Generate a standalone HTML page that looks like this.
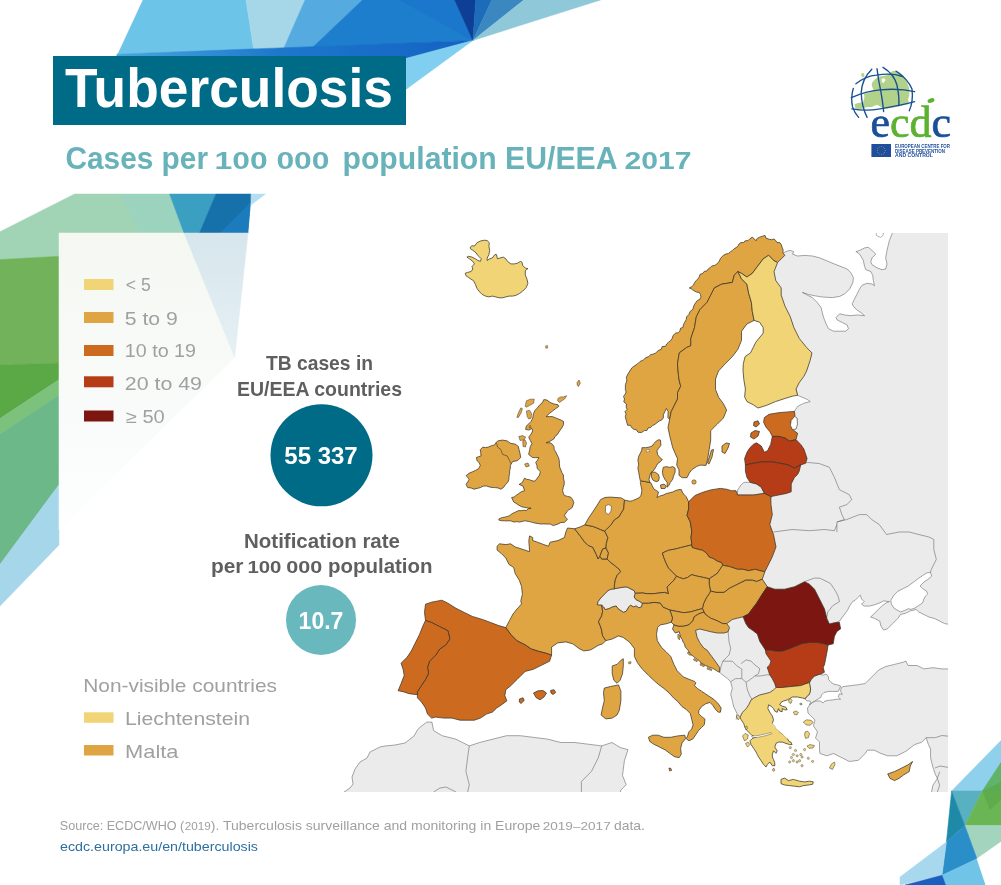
<!DOCTYPE html>
<html><head><meta charset="utf-8"><title>Tuberculosis</title>
<style>
html,body{margin:0;padding:0;background:#fff;}
svg{display:block;will-change:transform;}
text{-webkit-font-smoothing:antialiased;}
text{font-family:"Liberation Sans", Arial, sans-serif;}
</style></head><body>
<svg width="1001" height="885" viewBox="0 0 1001 885">
<rect width="1001" height="885" fill="#ffffff"/>
<polygon points="143,0 246,0 253.7,49.5 117,54.2 117,56" fill="#6cc4e8" stroke="#6cc4e8" stroke-width="0.5" stroke-linejoin="round"/>
<polygon points="246,0 305,0 283.7,48.6 253.7,49.5" fill="#a6d7e9" stroke="#a6d7e9" stroke-width="0.5" stroke-linejoin="round"/>
<polygon points="305,0 362.4,0 312.4,47.5 283.7,48.6" fill="#55aadf" stroke="#55aadf" stroke-width="0.5" stroke-linejoin="round"/>
<polygon points="362.4,0 454.8,0 472.9,40.4 312.4,47.5" fill="#1d7ecd" stroke="#1d7ecd" stroke-width="0.5" stroke-linejoin="round"/>
<polygon points="400,0 454.8,0 472.9,40.4" fill="#1b77cb" stroke="#1b77cb" stroke-width="0.5" stroke-linejoin="round"/>
<polygon points="454.8,0 475.8,0 472.9,40.4" fill="#0d3f96" stroke="#0d3f96" stroke-width="0.5" stroke-linejoin="round"/>
<polygon points="475.8,0 491.8,0 472.9,40.4" fill="#1c6cb9" stroke="#1c6cb9" stroke-width="0.5" stroke-linejoin="round"/>
<polygon points="491.8,0 523.8,0 472.9,40.4" fill="#3b88c0" stroke="#3b88c0" stroke-width="0.5" stroke-linejoin="round"/>
<polygon points="523.8,0 600.5,0 472.9,40.4" fill="#8fc8d8" stroke="#8fc8d8" stroke-width="0.5" stroke-linejoin="round"/>
<defs><linearGradient id="band" x1="117" y1="0" x2="473" y2="0" gradientUnits="userSpaceOnUse"><stop offset="0" stop-color="#4aa6de"/><stop offset="0.45" stop-color="#1d78cc"/><stop offset="1" stop-color="#1462c3"/></linearGradient></defs>
<polygon points="117,54.2 472.9,40.4 405.8,58.4 405.8,57 117,57" fill="url(#band)" stroke="url(#band)" stroke-width="0.5" stroke-linejoin="round"/>
<polygon points="405.8,58.4 472.9,40.4 405.8,89.5" fill="#80cff0" stroke="#80cff0" stroke-width="0.5" stroke-linejoin="round"/>
<polygon points="74.6,194 169.6,194 184,233 59,233 59,256.3 0,259.6 0,231.7" fill="#a0d4b4" stroke="#a0d4b4" stroke-width="0.5" stroke-linejoin="round"/>
<polygon points="120,194 169.6,194 184,233 140,233" fill="#9bd2c0" opacity="0.8"/>
<polygon points="169.6,194 215.9,194 199.4,233 184,233" fill="#3a9fc1" stroke="#3a9fc1" stroke-width="0.5" stroke-linejoin="round"/>
<polygon points="215.9,194 251.1,194 247.8,233 199.4,233" fill="#1670a9" stroke="#1670a9" stroke-width="0.5" stroke-linejoin="round"/>
<polygon points="251.1,202 251.1,194 247.8,233 220,233" fill="#1b7bbd" stroke="#1b7bbd" stroke-width="0.5" stroke-linejoin="round"/>
<polygon points="251.1,194 265.5,194 251.1,204.8" fill="#b5dff0" stroke="#b5dff0" stroke-width="0.5" stroke-linejoin="round"/>
<polygon points="0,259.6 59,256.3 59,363 0,365" fill="#72b25b" stroke="#72b25b" stroke-width="0.5" stroke-linejoin="round"/>
<polygon points="0,365 59,363 59,379.7 0,418.6" fill="#5ba946" stroke="#5ba946" stroke-width="0.5" stroke-linejoin="round"/>
<polygon points="0,418.6 59,379.7 59,395 0,434" fill="#7cc27c" stroke="#7cc27c" stroke-width="0.5" stroke-linejoin="round"/>
<polygon points="0,434 59,395 59,484.7 0,564.4" fill="#6cb889" stroke="#6cb889" stroke-width="0.5" stroke-linejoin="round"/>
<polygon points="0,564.4 59,484.7 59,545 0,606" fill="#a6d6ea" stroke="#a6d6ea" stroke-width="0.5" stroke-linejoin="round"/>
<defs><linearGradient id="fb" x1="0" y1="233" x2="0" y2="357" gradientUnits="userSpaceOnUse"><stop offset="0" stop-color="#d6e6ec"/><stop offset="1" stop-color="#e6f0f4"/></linearGradient><linearGradient id="fg" x1="0" y1="233" x2="0" y2="530" gradientUnits="userSpaceOnUse"><stop offset="0" stop-color="#f4f8f1"/><stop offset="0.6" stop-color="#f9fbfa"/><stop offset="1" stop-color="#fdfefe"/></linearGradient></defs>
<polygon points="59,233 184,233 234.7,357.4 59,530" fill="url(#fg)" stroke="url(#fg)" stroke-width="0.5" stroke-linejoin="round"/>
<polygon points="184,233 248,233 234.7,357.4" fill="url(#fb)" stroke="url(#fb)" stroke-width="0.5" stroke-linejoin="round"/>
<polygon points="951.6,791 1001,740.5 1001,791" fill="#8fd0ec" stroke="#8fd0ec" stroke-width="0.5" stroke-linejoin="round"/>
<polygon points="982.3,791 1001,762.6 1001,791" fill="#5fb36b" stroke="#5fb36b" stroke-width="0.5" stroke-linejoin="round"/>
<polygon points="951.6,791 982.3,791 964.8,825.4" fill="#58b0c1" stroke="#58b0c1" stroke-width="0.5" stroke-linejoin="round"/>
<polygon points="951.6,791 964.8,825.4 946.4,842" fill="#1f89a8" stroke="#1f89a8" stroke-width="0.5" stroke-linejoin="round"/>
<polygon points="982.3,791 1001,791 1001,825.4 964.8,825.4" fill="#6ab655" stroke="#6ab655" stroke-width="0.5" stroke-linejoin="round"/>
<polygon points="982.3,791 1001,782 1001,800 990,810" fill="#5aa848" opacity="0.7"/>
<polygon points="964.8,825.4 1001,825.4 1001,842 977,858.7" fill="#a3d5be" stroke="#a3d5be" stroke-width="0.5" stroke-linejoin="round"/>
<polygon points="964.8,825.4 977,858.7 942,875.3 946.4,842" fill="#2a8ec8" stroke="#2a8ec8" stroke-width="0.5" stroke-linejoin="round"/>
<polygon points="946.4,842 942,875.3 900,885 900,877" fill="#a7d8ee" stroke="#a7d8ee" stroke-width="0.5" stroke-linejoin="round"/>
<polygon points="942,875.3 977,858.7 985.8,885 945,885" fill="#6fc4e8" stroke="#6fc4e8" stroke-width="0.5" stroke-linejoin="round"/>
<polygon points="905,885 942,875.3 945.5,885" fill="#1a5fc0" stroke="#1a5fc0" stroke-width="0.5" stroke-linejoin="round"/>
<polygon points="977,858.7 1001,842 1001,885 985.8,885" fill="#ffffff" stroke="#ffffff" stroke-width="0.5" stroke-linejoin="round"/>
<defs><clipPath id="mc"><rect x="330" y="233" width="618" height="559"/></clipPath></defs>
<g clip-path="url(#mc)">
<path d="M786.0,251.5 L790.0,250.4 L793.7,251.6 L792.5,254.1 L797.5,256.0 L804.9,255.4 L812.4,256.0 L819.8,257.9 L827.3,261.0 L834.7,264.1 L841.0,266.6 L847.2,269.0 L850.9,272.8 L853.4,277.7 L852.8,282.7 L849.7,288.9 L844.7,293.9 L839.7,296.4 L832.3,297.6 L822.3,297.0 L814.9,295.8 L808.6,294.5 L802.4,292.4 L807.4,295.2 L812.4,297.6 L817.3,302.6 L821.1,307.6 L822.3,312.6 L823.6,317.5 L826.0,323.7 L828.5,328.7 L833.5,331.2 L839.7,331.2 L845.9,331.2 L848.4,328.7 L847.2,325.0 L842.2,322.5 L837.2,320.0 L836.0,317.5 L839.7,313.8 L844.7,315.0 L850.9,315.7 L857.1,315.0 L864.6,315.7 L860.9,312.6 L857.1,310.1 L853.4,306.3 L852.2,303.9 L854.6,298.9 L857.1,293.9 L859.6,288.9 L862.1,285.2 L867.1,283.3 L872.0,284.0 L874.5,285.8 L873.3,280.2 L872.7,275.3 L870.8,271.5 L865.8,269.7 L864.6,266.6 L863.3,260.3 L859.6,254.1 L855.9,251.6 L859.6,250.4 L864.6,247.9 L868.3,247.3 L872.0,250.4 L875.8,254.1 L872.0,257.9 L870.8,261.6 L872.0,264.7 L877.0,267.8 L882.0,269.7 L885.7,269.0 L887.0,264.1 L885.7,257.9 L887.0,250.4 L888.2,245.4 L889.4,240.5 L891.9,234.2 L892.5,233.0 L893.0,229.0 L952.0,229.0 L952.0,624.9 L944.7,623.6 L939.5,621.0 L934.3,618.4 L929.1,617.1 L923.9,614.5 L918.7,611.9 L916.1,609.4 L912.2,610.6 L910.9,610.6 L905.7,613.2 L900.5,614.5 L897.9,618.4 L892.7,623.6 L887.5,628.8 L883.6,630.1 L881.0,626.2 L879.7,621.0 L874.5,618.4 L870.6,617.1 L874.5,613.2 L878.4,609.4 L882.3,605.5 L886.2,602.9 L889.5,601.5 L888.8,601.6 L883.6,600.9 L879.7,602.9 L874.5,604.8 L869.4,606.1 L864.2,606.1 L861.6,604.2 L864.2,601.6 L861.6,599.0 L860.3,595.1 L857.7,597.7 L855.1,600.3 L852.5,601.6 L849.9,605.5 L847.3,610.6 L843.4,615.8 L839.5,621.0 L836.0,622.5 L830.0,630.0 L800.0,620.0 L770.0,600.0 L745.0,585.0 L735.0,560.0 L760.0,520.0 L780.0,480.0 L785.0,445.0 L787.0,425.0 L794.4,411.4 L797.6,406.4 L803.9,403.2 L810.2,401.6 L807.1,399.3 L797.6,395.3 L790.0,370.0 L785.0,320.0 L776.0,290.0 L770.0,270.0 L775.0,258.0 Z" fill="#ebebeb" stroke="#6a6a6a" stroke-width="0.6" stroke-linejoin="round" />
<path d="M843.0,686.6 L849.4,685.8 L858.4,684.7 L865.2,683.5 L871.9,676.8 L878.7,670.0 L885.5,666.6 L894.5,664.4 L903.5,662.1 L905.8,661.0 L908.1,665.5 L917.1,665.5 L923.9,668.9 L932.9,667.7 L941.9,668.9 L952.0,668.9 L952.0,797.0 L930.6,797.0 L932.9,785.2 L937.4,778.4 L935.2,773.9 L932.9,767.1 L930.6,758.1 L930.6,749.0 L928.4,744.5 L926.1,737.7 L921.6,742.3 L914.8,744.5 L905.8,751.3 L896.8,755.8 L887.7,755.8 L881.0,753.5 L874.2,750.2 L867.4,750.2 L865.2,753.5 L858.4,760.3 L849.4,761.5 L842.6,758.1 L833.5,753.5 L826.8,755.8 L820.0,753.5 L819.5,750.2 L819.5,742.1 L815.5,738.0 L817.5,731.9 L813.4,725.8 L815.0,720.0 L812.0,717.0 L808.0,713.0 L807.5,708.0 L810.0,704.6 L813.0,702.2 L816.0,701.0 L820.2,701.0 L823.2,702.8 L825.0,701.0 L828.6,700.4 L833.4,699.8 L837.0,699.2 L840.6,699.2 L838.2,696.8 L839.4,693.8 L842.4,694.4 L840.6,691.4 L841.2,687.8 Z" fill="#ebebeb" stroke="#6a6a6a" stroke-width="0.6" stroke-linejoin="round" />
<path d="M340.0,797.0 L344.0,792.0 L350.0,788.0 L353.0,784.0 L352.0,777.0 L355.0,769.0 L360.0,762.0 L367.0,758.0 L370.0,752.0 L380.0,747.0 L385.0,746.0 L395.0,745.0 L405.0,743.0 L414.0,736.0 L417.4,730.0 L420.0,727.2 L426.8,722.1 L431.9,722.1 L433.6,730.6 L442.1,735.7 L455.7,739.1 L462.5,742.5 L469.3,745.9 L479.5,742.5 L493.0,739.1 L506.6,735.7 L520.2,735.7 L533.8,737.4 L547.4,739.1 L561.0,742.5 L574.6,742.5 L588.2,744.2 L601.7,745.9 L611.9,742.5 L620.4,747.6 L628.0,749.6 L624.4,760.7 L622.5,775.5 L626.2,784.7 L620.7,790.2 L620.0,797.0 Z" fill="#ebebeb" stroke="#6a6a6a" stroke-width="0.6" stroke-linejoin="round" />
<path d="M809.4,683.0 L813.0,677.0 L819.0,674.0 L823.2,675.2 L826.2,674.0 L828.6,677.0 L828.6,679.4 L831.0,682.4 L834.0,684.2 L837.0,684.8 L840.6,686.0 L839.5,689.0 L838.2,691.4 L834.0,691.4 L828.6,691.4 L823.8,692.6 L821.4,695.0 L820.8,697.4 L817.8,699.2 L814.8,701.0 L811.8,702.8 L809.4,704.6 L810.6,702.2 L810.0,701.0 L807.0,701.0 L805.2,699.2 L806.4,696.8 L808.8,695.0 L810.0,692.6 L810.6,689.0 L810.0,686.0 Z" fill="#ebebeb" stroke="#6a6a6a" stroke-width="0.6" stroke-linejoin="round" />
<path d="M719.6,672.3 L721.2,673.8 L727.5,678.6 L730.7,681.8 L732.3,688.1 L730.7,694.4 L732.3,700.7 L733.8,707.1 L737.0,713.4 L736.2,719.6 L750.0,712.0 L775.0,700.0 L780.0,690.0 L780.0,680.0 L790.0,625.0 L760.0,615.0 L730.0,610.0 L700.0,626.0 L695.6,630.3 L697.0,637.1 L699.7,642.5 L703.7,648.0 L707.0,650.1 L711.7,656.4 L716.4,662.8 L719.6,667.5 Z" fill="#ebebeb" stroke="none" stroke-width="0" stroke-linejoin="round" />
<path d="M597.2,604.6 L598.1,601.5 L600.8,597.9 L604.4,594.2 L608.0,590.6 L610.7,589.3 L614.4,588.8 L618.9,587.9 L624.3,587.0 L627.0,587.0 L630.6,588.8 L634.2,590.6 L635.2,593.3 L634.2,597.0 L636.1,599.7 L639.7,601.5 L642.4,603.3 L641.5,606.9 L638.8,607.8 L636.1,606.0 L633.3,606.9 L630.6,605.1 L628.8,606.9 L626.1,611.4 L623.4,612.3 L620.7,610.5 L618.0,608.7 L616.2,606.0 L612.5,606.9 L608.9,608.7 L605.3,609.6 L603.5,606.9 L600.8,605.1 L599.0,605.1 Z" fill="#ebebeb" stroke="#6a6a6a" stroke-width="0.6" stroke-linejoin="round" />
<path d="M737.5,490.2 L740.6,485.5 L743.8,482.3 L750.1,482.3 L756.4,483.9 L761.2,487.1 L764.4,493.4 L753.3,495.0 L745.0,495.0 L737.5,495.0 Z" fill="#ebebeb" stroke="#6a6a6a" stroke-width="0.6" stroke-linejoin="round" />
<path d="M890.8,600.3 L894.0,595.1 L897.9,591.2 L903.1,588.6 L908.3,586.0 L913.5,582.1 L918.7,578.2 L922.6,575.6 L926.5,573.0 L930.4,572.3 L931.7,576.2 L927.8,579.5 L923.9,582.1 L920.0,586.0 L922.6,588.6 L926.5,591.2 L927.8,593.8 L925.2,596.4 L923.9,599.0 L922.6,602.9 L918.7,605.5 L914.8,608.1 L910.9,609.4 L908.3,608.7 L904.4,610.6 L900.5,611.9 L897.9,610.6 L894.0,608.1 L891.4,604.2 Z" fill="#ffffff" stroke="#6a6a6a" stroke-width="0.6" stroke-linejoin="round" />
<path d="M876.0,232.0 L876.5,235.5 L880.5,237.4 L883.0,235.5 L883.5,232.0 Z" fill="#ffffff" stroke="#6a6a6a" stroke-width="0.5" stroke-linejoin="round" />
<path d="M794.5,416.5 L797.0,418.0 L797.5,424.0 L796.0,429.0 L792.5,429.5 L790.5,425.4 L791.2,420.6 Z" fill="#ffffff" stroke="#6a6a6a" stroke-width="0.5" stroke-linejoin="round" />
<path d="M805.5,463.3 L807.1,462.4 L819.5,463.6 L829.4,467.3 L834.4,477.3 L839.4,489.7 L849.3,494.7 L851.8,499.7 L846.8,504.6 L839.4,507.1 L841.9,514.6 L844.4,519.5 L836.9,522.0 L836.9,532.0" fill="none" stroke="#6a6a6a" stroke-width="0.6" stroke-linejoin="round"/>
<path d="M773.5,532.0 L792.1,529.5 L809.5,530.7 L824.5,529.5 L834.4,530.7 L836.9,524.5" fill="none" stroke="#6a6a6a" stroke-width="0.6" stroke-linejoin="round"/>
<path d="M836.9,522.0 L846.8,519.5 L859.3,514.6 L866.7,514.6 L871.7,519.5 L879.2,524.5 L886.6,534.5 L899.0,532.0 L909.0,532.0 L918.9,534.5 L928.9,537.0 L933.8,539.4 L933.8,549.4 L936.3,559.3 L931.4,569.3 L930.4,572.3" fill="none" stroke="#6a6a6a" stroke-width="0.6" stroke-linejoin="round"/>
<path d="M804.6,581.7 L814.5,578.0 L820.0,578.2 L825.2,580.8 L830.4,583.4 L833.0,587.3 L835.6,591.2 L838.2,596.4 L839.5,601.6 L833.0,605.5 L827.8,611.9 L826.5,618.4" fill="none" stroke="#6a6a6a" stroke-width="0.6" stroke-linejoin="round"/>
<path d="M728.1,631.7 L729.1,642.2 L730.7,648.5 L729.1,654.9 L725.9,658.0 L722.8,661.2 L721.2,665.9 L719.6,672.3" fill="none" stroke="#6a6a6a" stroke-width="0.6" stroke-linejoin="round"/>
<path d="M722.8,661.2 L732.3,661.2 L737.0,665.9 L741.8,669.1 L741.8,678.6 L735.4,678.6 L730.7,681.8" fill="none" stroke="#6a6a6a" stroke-width="0.6" stroke-linejoin="round"/>
<path d="M741.1,663.6 L746.1,659.9 L751.1,661.1 L754.8,664.9 L759.8,668.6 L758.5,673.6 L754.8,676.0 L749.8,679.8 L746.1,682.3 L741.8,678.6" fill="none" stroke="#6a6a6a" stroke-width="0.6" stroke-linejoin="round"/>
<path d="M754.8,676.0 L760.0,676.0 L767.2,674.8 L769.7,674.8" fill="none" stroke="#6a6a6a" stroke-width="0.6" stroke-linejoin="round"/>
<path d="M746.1,682.3 L747.3,689.7 L749.8,695.9 L752.3,699.7" fill="none" stroke="#6a6a6a" stroke-width="0.6" stroke-linejoin="round"/>
<path d="M926.1,737.7 L935.2,737.7 L941.9,735.5 L952.0,736.6" fill="none" stroke="#6a6a6a" stroke-width="0.6" stroke-linejoin="round"/>
<path d="M935.0,768.0 L940.0,766.0 L952.0,768.0" fill="none" stroke="#6a6a6a" stroke-width="0.6" stroke-linejoin="round"/>
<path d="M939.7,771.6 L937.4,778.4 L939.7,785.2 L937.0,793.0" fill="none" stroke="#6a6a6a" stroke-width="0.6" stroke-linejoin="round"/>
<path d="M469.3,745.9 L467.6,757.7 L465.9,771.3 L469.3,784.9 L467.6,792.0" fill="none" stroke="#6a6a6a" stroke-width="0.6" stroke-linejoin="round"/>
<path d="M601.7,745.9 L598.3,757.7 L591.5,771.3 L581.4,781.5 L581.4,792.0" fill="none" stroke="#6a6a6a" stroke-width="0.6" stroke-linejoin="round"/>
<path d="M433.6,792.0 L440.0,788.0 L446.0,787.0 L452.0,790.0 L456.0,792.0" fill="none" stroke="#6a6a6a" stroke-width="0.6" stroke-linejoin="round"/>
<path d="M719.6,672.3 L721.2,673.8 L727.5,678.6 L730.7,681.8 L732.3,688.1 L730.7,694.4 L732.3,700.7 L733.8,707.1 L737.0,713.4 L736.2,719.6" fill="none" stroke="#6a6a6a" stroke-width="0.6" stroke-linejoin="round"/>
<path d="M470.3,247.0 L472.0,245.7 L474.5,246.1 L477.0,242.7 L480.4,241.0 L484.7,240.2 L487.2,240.6 L489.3,242.7 L488.9,246.1 L489.7,250.3 L488.9,254.6 L487.2,258.0 L487.2,260.5 L489.7,258.8 L492.3,258.0 L494.8,254.6 L496.5,254.6 L497.4,258.8 L499.9,258.0 L503.3,257.1 L505.8,258.8 L507.5,261.4 L510.9,263.9 L514.3,263.9 L517.7,263.1 L520.3,261.4 L522.0,262.2 L522.8,265.6 L525.3,268.1 L527.9,268.6 L525.3,270.7 L525.3,274.9 L527.0,279.2 L527.9,283.4 L526.2,287.6 L522.8,291.0 L519.4,293.6 L516.0,295.3 L512.6,296.1 L509.2,296.1 L505.8,296.9 L502.5,297.8 L499.1,297.8 L495.7,296.9 L492.3,296.1 L488.9,296.9 L485.5,296.1 L482.1,294.4 L479.6,291.9 L477.0,288.5 L475.3,284.2 L473.6,280.8 L471.1,279.2 L468.6,277.5 L466.0,275.8 L465.2,273.2 L467.7,272.4 L471.1,271.5 L472.8,269.0 L472.0,266.4 L474.5,263.9 L472.8,261.4 L469.4,258.8 L466.9,257.1 L468.6,256.3 L472.0,257.1 L475.3,258.8 L477.9,260.5 L480.4,261.4 L481.3,258.8 L479.6,257.1 L477.6,255.3 L476.2,252.9 L472.8,250.3 L470.3,248.6 Z" fill="#f0d475" stroke="#3b3428" stroke-width="0.75" stroke-linejoin="round" />
<path d="M494.6,444.9 L495.9,442.7 L497.7,440.9 L502.5,440.1 L507.2,440.9 L510.4,443.3 L515.1,444.1 L518.3,446.4 L519.0,449.6 L519.9,452.8 L520.7,457.5 L517.5,460.7 L512.7,461.5 L510.4,465.4 L510.3,468.1 L509.7,470.7 L509.6,473.3 L509.0,476.5 L508.8,479.7 L507.7,482.4 L505.6,484.4 L503.7,487.3 L500.9,489.2 L497.9,487.9 L494.6,487.6 L491.9,487.4 L489.2,486.9 L486.6,486.0 L483.3,486.1 L480.3,487.6 L477.2,488.4 L474.0,489.2 L471.0,487.9 L467.7,487.6 L466.1,484.4 L467.6,482.0 L469.2,479.7 L467.8,477.6 L466.1,475.7 L469.0,473.3 L472.4,471.8 L475.6,470.4 L478.7,468.6 L480.3,465.4 L479.1,462.8 L477.1,460.7 L476.4,457.5 L481.1,455.9 L480.7,452.7 L480.3,449.6 L482.7,447.2 L485.4,447.5 L488.2,447.2 L491.4,445.7 Z" fill="#e0a543" stroke="#3b3428" stroke-width="0.75" stroke-linejoin="round" />
<path d="M543.8,399.6 L546.9,400.0 L550.1,402.4 L554.0,404.0 L558.0,404.8 L558.8,406.4 L555.6,408.7 L552.5,411.1 L549.3,413.5 L546.1,416.6 L549.3,416.6 L552.5,416.6 L556.4,418.2 L560.4,419.8 L563.5,421.4 L563.5,424.6 L562.0,427.7 L559.6,430.9 L557.2,434.8 L555.0,436.3 L554.0,438.8 L550.1,441.2 L546.1,442.8 L550.1,442.8 L552.5,444.3 L554.0,446.7 L554.1,449.3 L555.6,451.5 L557.2,455.0 L558.6,457.8 L559.3,460.7 L559.4,463.8 L559.7,467.1 L561.0,470.2 L561.9,472.7 L563.4,474.9 L563.4,478.1 L564.2,481.2 L564.2,484.4 L563.2,487.5 L562.6,490.7 L563.3,493.2 L564.4,495.5 L567.5,496.4 L570.7,497.1 L572.7,499.6 L573.8,502.7 L572.3,507.4 L570.0,509.1 L567.5,510.6 L566.1,513.0 L564.4,515.3 L565.7,517.5 L567.5,519.3 L564.4,522.4 L561.0,522.4 L558.0,524.0 L553.3,525.6 L550.3,524.1 L547.0,524.0 L543.8,523.9 L540.6,524.0 L535.9,523.2 L532.7,522.5 L529.6,521.6 L524.8,520.8 L522.2,521.4 L519.6,522.1 L516.9,521.6 L513.7,522.0 L510.6,520.8 L507.4,520.9 L504.2,520.8 L501.4,520.7 L498.7,520.0 L499.5,518.5 L502.6,517.5 L505.8,516.9 L509.2,515.9 L512.1,513.7 L515.3,512.2 L518.5,510.6 L521.1,510.7 L523.8,510.2 L526.4,510.6 L528.4,508.7 L531.1,508.2 L527.9,508.1 L524.8,507.4 L521.4,506.7 L518.5,505.0 L516.1,503.4 L513.7,501.9 L511.6,497.5 L514.2,497.0 L516.2,495.3 L518.3,493.9 L521.2,491.8 L524.6,490.7 L523.0,486.0 L519.1,484.4 L521.4,483.3 L523.0,481.2 L524.6,478.1 L526.8,479.4 L529.4,479.7 L532.1,480.8 L534.9,481.2 L537.3,478.1 L539.4,475.2 L540.4,471.8 L537.3,468.6 L536.9,465.3 L535.7,462.3 L537.6,460.2 L538.8,457.5 L535.6,457.7 L532.5,457.5 L528.6,454.4 L529.5,450.7 L530.3,446.7 L531.9,443.5 L530.3,440.4 L528.7,437.2 L531.1,434.1 L532.7,430.9 L531.9,428.5 L528.7,430.1 L525.6,429.3 L526.4,426.1 L528.7,423.8 L531.1,421.4 L532.7,418.2 L533.5,413.5 L535.1,410.3 L537.4,407.9 L539.8,404.8 L542.4,402.7 Z" fill="#e0a543" stroke="#3b3428" stroke-width="0.75" stroke-linejoin="round" />
<path d="M574.6,528.8 L567.5,528.0 L565.9,531.9 L564.4,537.5 L558.0,540.6 L550.1,542.2 L548.5,546.2 L543.8,544.6 L537.5,542.2 L532.7,540.6 L532.7,537.5 L529.6,535.9 L528.8,540.6 L529.6,551.7 L524.8,550.1 L520.1,548.5 L515.3,547.0 L510.6,543.8 L505.8,544.6 L499.5,543.8 L497.1,546.2 L497.1,550.1 L501.1,553.3 L505.8,558.0 L509.0,564.4 L513.7,567.5 L515.3,573.8 L519.3,580.2 L521.6,586.5 L522.4,594.4 L520.8,600.7 L521.5,604.0 L517.0,609.0 L513.0,614.0 L509.5,620.5 L505.8,627.6 L510.9,634.7 L517.0,640.8 L525.2,644.9 L531.3,649.0 L537.4,651.0 L545.5,653.1 L551.6,655.1 L551.6,647.0 L557.7,642.9 L565.8,641.9 L572.7,643.8 L579.0,648.5 L583.7,650.9 L590.1,650.1 L593.2,648.5 L598.0,645.4 L602.7,643.8 L605.9,640.6 L602.7,635.9 L601.1,628.0 L598.5,621.6 L601.7,615.9 L602.6,611.4 L601.7,605.1 L599.0,605.1 L597.2,604.6 L598.1,601.5 L600.8,597.9 L604.4,594.2 L608.0,590.6 L610.7,589.3 L614.4,588.8 L614.4,585.2 L615.3,579.8 L617.1,575.3 L620.7,571.6 L618.9,568.9 L614.4,565.3 L609.8,561.7 L607.1,559.0 L601.7,559.0 L599.9,556.3 L598.1,559.0 L596.3,554.5 L592.7,547.2 L588.1,545.4 L584.5,541.8 L580.2,535.9 Z" fill="#e0a543" stroke="#3b3428" stroke-width="0.75" stroke-linejoin="round" />
<path d="M425.5,604.2 L431.6,602.2 L441.8,600.2 L447.9,603.2 L456.0,608.3 L464.2,612.4 L472.3,616.4 L482.5,619.5 L490.6,622.5 L498.7,625.6 L505.8,627.6 L510.9,634.7 L517.0,640.8 L525.2,644.9 L531.3,649.0 L537.4,651.0 L545.5,653.1 L551.6,655.1 L549.6,661.2 L541.4,665.3 L533.3,669.3 L525.2,671.4 L521.1,675.4 L517.0,679.5 L510.9,685.6 L505.8,689.7 L504.8,695.8 L506.9,700.8 L502.8,703.9 L496.7,708.0 L492.6,712.0 L486.5,714.1 L480.4,718.1 L474.3,720.2 L468.2,720.2 L460.1,720.2 L452.0,718.1 L443.8,718.1 L435.7,717.1 L431.6,718.1 L427.5,714.1 L425.5,708.0 L421.4,701.9 L417.4,697.8 L417.4,694.7 L417.4,691.7 L421.4,685.6 L425.5,679.5 L428.6,673.4 L427.5,667.3 L429.6,661.2 L435.7,655.1 L439.7,649.0 L445.8,644.9 L449.9,638.8 L447.9,630.7 L439.7,626.6 L431.6,622.5 L425.5,620.5 L424.5,612.4 Z" fill="#cc6b20" stroke="#3b3428" stroke-width="0.75" stroke-linejoin="round" />
<path d="M425.5,620.5 L431.6,622.5 L439.7,626.6 L447.9,630.7 L449.9,638.8 L445.8,644.9 L439.7,649.0 L435.7,655.1 L429.6,661.2 L427.5,667.3 L428.6,673.4 L425.5,679.5 L421.4,685.6 L417.4,691.7 L417.4,694.7 L409.2,693.7 L403.1,691.7 L398.1,690.7 L401.1,683.6 L404.2,675.4 L403.1,669.3 L401.1,663.2 L407.2,657.1 L411.3,651.0 L415.3,642.9 L419.4,634.7 L423.5,624.6 Z" fill="#cc6b20" stroke="#3b3428" stroke-width="0.75" stroke-linejoin="round" />
<path d="M574.6,528.8 L580.0,527.0 L584.9,524.8 L588.0,525.5 L592.8,526.4 L597.0,528.0 L600.7,529.6 L604.7,531.1 L607.9,537.5 L606.3,543.8 L606.0,548.0 L602.6,549.0 L599.9,556.3 L598.1,559.0 L596.3,554.5 L592.7,547.2 L588.1,545.4 L584.5,541.8 L580.2,535.9 Z" fill="#e0a543" stroke="#3b3428" stroke-width="0.75" stroke-linejoin="round" />
<path d="M601.7,559.0 L607.1,559.0 L608.5,553.0 L606.0,548.0 L602.6,549.0 L599.9,556.3 Z" fill="#e0a543" stroke="#3b3428" stroke-width="0.75" stroke-linejoin="round" />
<path d="M584.9,524.8 L588.0,519.0 L592.0,513.0 L596.0,507.0 L600.7,499.5 L605.0,497.5 L610.2,497.1 L616.0,497.5 L621.3,497.9 L624.5,500.0 L623.7,509.0 L619.0,516.9 L614.2,520.1 L611.1,524.8 L606.3,529.6 L604.7,531.1 L600.7,529.6 L597.0,528.0 L592.8,526.4 L588.0,525.5 Z" fill="#e0a543" stroke="#3b3428" stroke-width="0.75" stroke-linejoin="round" />
<path d="M624.5,500.0 L630.0,501.3 L632.4,500.7 L636.3,499.1 L639.5,497.5 L641.1,495.1 L641.9,490.4 L641.1,486.4 L640.3,482.5 L641.1,480.9 L645.8,481.7 L649.8,482.5 L650.6,482.5 L652.2,485.6 L653.7,488.8 L656.1,490.4 L658.5,492.0 L657.7,495.1 L656.9,497.5 L660.1,495.9 L663.2,495.1 L666.4,493.5 L669.6,492.8 L672.7,492.0 L675.9,490.4 L679.0,489.6 L681.4,489.6 L682.2,492.0 L683.8,494.3 L686.2,496.7 L688.6,501.8 L688.6,509.0 L687.0,515.3 L690.2,521.6 L691.8,531.1 L691.0,537.5 L691.8,543.8 L691.5,544.9 L686.1,546.3 L680.7,547.6 L675.3,549.0 L668.5,550.3 L662.4,553.0 L663.7,557.1 L665.8,562.5 L668.5,568.0 L672.5,572.0 L676.6,576.1 L673.9,580.2 L671.2,582.9 L667.1,587.0 L668.5,593.7 L664.4,592.4 L659.0,593.0 L653.6,593.7 L646.8,593.7 L642.7,593.0 L635.2,593.3 L634.2,590.6 L630.6,588.8 L627.0,587.0 L624.3,587.0 L618.9,587.9 L614.4,588.8 L614.4,585.2 L615.3,579.8 L617.1,575.3 L620.7,571.6 L618.9,568.9 L614.4,565.3 L609.8,561.7 L607.1,559.0 L608.5,553.0 L606.0,548.0 L606.3,543.8 L607.9,537.5 L604.7,531.1 L606.3,529.6 L611.1,524.8 L614.2,520.1 L619.0,516.9 L623.7,509.0 Z" fill="#e0a543" stroke="#3b3428" stroke-width="0.75" stroke-linejoin="round" />
<path d="M660.5,440.1 L660.9,445.3 L658.5,448.4 L656.9,450.8 L657.7,454.8 L660.1,457.9 L662.4,459.5 L660.1,461.9 L657.7,463.5 L656.1,466.6 L654.5,469.0 L652.9,471.4 L650.6,473.0 L649.8,476.1 L649.0,479.3 L649.8,482.5 L645.8,481.7 L641.1,480.9 L640.3,480.9 L639.5,476.9 L638.7,472.2 L637.9,468.2 L638.7,464.3 L637.9,460.3 L638.7,456.4 L640.3,453.2 L641.9,450.0 L641.9,447.7 L645.8,447.7 L649.8,446.9 L652.2,446.1 L653.7,443.7 L656.1,441.3 L658.5,439.7 Z" fill="#e0a543" stroke="#3b3428" stroke-width="0.75" stroke-linejoin="round" />
<path d="M651.4,472.2 L655.3,472.2 L658.5,474.6 L659.3,477.7 L658.5,480.9 L656.1,481.7 L652.9,480.1 L651.4,476.9 Z" fill="#e0a543" stroke="#3b3428" stroke-width="0.75" stroke-linejoin="round" />
<path d="M663.2,467.4 L666.4,466.6 L669.6,467.4 L672.7,466.6 L675.1,468.2 L675.1,472.2 L673.5,476.1 L672.7,479.3 L670.3,482.5 L668.8,485.6 L667.2,487.2 L667.2,482.5 L664.8,479.3 L663.2,476.1 L662.4,472.2 Z" fill="#e0a543" stroke="#3b3428" stroke-width="0.75" stroke-linejoin="round" />
<path d="M660.5,485.0 L664.0,484.2 L666.4,486.0 L665.0,488.5 L661.0,488.5 Z" fill="#e0a543" stroke="#3b3428" stroke-width="0.75" stroke-linejoin="round" />
<path d="M669.6,419.6 L667.9,417.5 L668.0,414.8 L668.1,411.4 L666.4,408.5 L664.9,411.6 L663.4,414.6 L663.3,418.0 L661.6,420.1 L659.1,421.1 L657.0,422.7 L654.9,424.4 L652.5,425.6 L650.6,427.5 L648.2,427.9 L646.9,430.5 L644.3,430.6 L641.5,432.6 L638.0,432.2 L636.4,429.9 L633.6,429.2 L631.6,427.5 L630.5,425.4 L627.5,425.2 L626.9,422.7 L626.0,419.6 L625.3,416.4 L626.1,414.1 L625.0,411.6 L627.1,409.4 L626.1,406.9 L626.6,404.1 L623.8,401.9 L624.5,399.0 L623.5,396.5 L625.0,394.3 L626.2,392.0 L625.3,389.5 L625.4,387.1 L625.4,384.6 L626.3,382.3 L626.9,380.0 L626.3,377.3 L627.4,375.0 L628.7,372.8 L630.4,370.0 L632.3,367.4 L635.0,365.6 L637.7,363.8 L640.1,361.4 L643.2,360.2 L645.5,357.8 L648.6,356.6 L650.7,354.7 L653.4,354.0 L655.8,352.9 L658.2,350.6 L661.2,349.3 L662.2,346.6 L665.5,346.3 L666.7,343.9 L668.6,342.2 L670.6,340.6 L672.1,338.5 L673.2,335.3 L675.7,333.1 L678.3,332.7 L679.9,331.1 L680.5,328.2 L682.9,327.6 L683.4,324.8 L684.7,322.2 L686.2,319.7 L686.6,316.8 L688.9,314.4 L690.2,311.4 L692.9,309.3 L693.8,305.9 L695.4,303.1 L697.4,300.5 L699.8,299.3 L701.0,296.9 L700.5,294.5 L699.2,292.4 L696.3,292.0 L693.8,290.6 L691.7,289.1 L689.3,287.9 L691.8,286.8 L693.5,284.9 L694.7,282.4 L696.2,280.6 L697.9,278.9 L699.2,277.0 L700.1,274.3 L702.8,273.4 L704.2,271.4 L707.0,271.0 L708.3,268.9 L710.2,267.6 L711.8,265.9 L714.3,265.6 L716.2,264.4 L718.1,262.9 L719.4,261.0 L720.3,258.7 L721.8,257.0 L723.4,255.3 L725.8,254.1 L728.5,253.5 L730.6,251.7 L732.5,250.4 L734.1,248.8 L736.1,247.6 L737.9,246.3 L739.0,244.0 L740.8,242.6 L743.6,242.6 L745.1,240.8 L748.1,240.7 L750.0,238.6 L752.3,237.2 L754.3,238.8 L755.9,240.8 L757.2,238.4 L759.6,237.2 L762.3,236.3 L765.0,235.4 L765.9,238.1 L768.6,239.0 L771.3,239.7 L774.0,239.0 L775.7,240.5 L777.0,242.5 L779.8,242.6 L781.2,244.5 L782.1,247.2 L783.1,249.9 L782.9,253.0 L784.9,255.3 L781.2,258.9 L777.6,262.5 L774.0,260.7 L768.6,255.3 L763.2,258.9 L757.7,266.2 L752.3,273.4 L746.9,277.0 L741.5,273.4 L737.9,271.6 L734.2,275.2 L732.4,282.4 L721.6,284.2 L714.4,287.9 L710.7,295.1 L707.1,302.3 L699.9,309.6 L696.3,316.8 L694.5,327.6 L690.8,338.5 L690.8,345.7 L686.6,347.5 L679.3,352.9 L677.5,363.8 L678.4,374.6 L679.1,380.0 L680.7,386.3 L677.5,392.7 L677.5,399.0 L674.4,405.3 L671.2,411.6 Z" fill="#e0a543" stroke="#3b3428" stroke-width="0.75" stroke-linejoin="round" />
<path d="M737.9,271.6 L741.5,278.8 L746.9,284.2 L748.7,293.3 L751.4,302.3 L752.3,311.4 L754.1,320.4 L746.9,324.0 L741.5,331.2 L741.5,340.3 L737.9,349.3 L732.4,356.6 L725.2,363.8 L718.5,371.0 L715.5,379.0 L715.5,389.5 L718.7,397.4 L723.4,403.7 L726.6,410.1 L723.4,418.0 L717.1,424.3 L710.7,430.6 L710.7,440.1 L709.2,449.6 L707.6,459.1 L706.0,465.4 L700.0,465.1 L696.5,466.6 L691.7,469.8 L689.3,473.0 L687.0,477.7 L682.2,477.7 L679.0,475.3 L679.0,469.8 L676.7,465.1 L677.5,458.7 L675.1,453.2 L672.7,447.7 L671.1,441.3 L669.6,435.4 L668.0,427.5 L669.6,419.6 L671.2,411.6 L674.4,405.3 L677.5,399.0 L677.5,392.7 L680.7,386.3 L679.1,380.0 L678.4,374.6 L677.5,363.8 L679.3,352.9 L686.6,347.5 L690.8,345.7 L690.8,338.5 L694.5,327.6 L696.3,316.8 L699.9,309.6 L707.1,302.3 L710.7,295.1 L714.4,287.9 L721.6,284.2 L732.4,282.4 L734.2,275.2 Z" fill="#e0a543" stroke="#3b3428" stroke-width="0.75" stroke-linejoin="round" />
<path d="M722.0,446.0 L726.0,443.0 L729.5,443.5 L728.0,448.0 L725.0,453.5 L722.0,452.0 Z" fill="#e0a543" stroke="#3b3428" stroke-width="0.75" stroke-linejoin="round" />
<path d="M711.5,450.0 L713.5,449.5 L712.0,457.0 L709.0,464.0 L707.5,463.0 Z" fill="#e0a543" stroke="#3b3428" stroke-width="0.75" stroke-linejoin="round" />
<path d="M737.9,271.6 L741.5,273.4 L746.9,277.0 L752.3,273.4 L757.7,266.2 L763.2,258.9 L768.6,255.3 L774.0,260.7 L777.6,262.5 L774.0,271.6 L775.8,280.6 L781.2,287.9 L781.2,295.1 L784.9,305.9 L790.3,316.8 L793.9,327.6 L799.3,338.5 L806.6,347.5 L812.0,352.9 L810.2,360.2 L806.6,371.0 L803.9,376.3 L799.2,382.7 L796.0,389.0 L797.6,395.3 L792.8,396.1 L784.9,398.5 L775.4,401.6 L765.9,405.6 L758.0,408.0 L753.3,404.8 L747.0,401.6 L744.6,396.9 L745.4,389.0 L743.8,379.5 L743.0,370.0 L743.3,363.8 L745.1,356.6 L750.5,352.9 L755.9,342.1 L763.2,333.1 L763.2,327.6 L759.6,322.2 L754.1,320.4 L752.3,311.4 L751.4,302.3 L748.7,293.3 L746.9,284.2 L741.5,278.8 Z" fill="#f0d475" stroke="#3b3428" stroke-width="0.75" stroke-linejoin="round" />
<path d="M764.4,417.5 L769.1,414.3 L778.6,412.7 L788.1,411.9 L794.4,411.4 L795.0,416.0 L791.2,420.6 L790.5,425.4 L792.5,429.5 L797.6,433.3 L796.0,439.6 L789.7,441.2 L784.9,438.0 L778.6,436.4 L772.3,436.4 L769.9,431.7 L765.9,427.0 L763.6,422.2 Z" fill="#cc6b20" stroke="#3b3428" stroke-width="0.75" stroke-linejoin="round" />
<path d="M751.0,433.0 L755.0,430.5 L759.5,431.5 L758.0,436.0 L754.0,439.0 L750.5,437.0 Z" fill="#cc6b20" stroke="#3b3428" stroke-width="0.75" stroke-linejoin="round" />
<path d="M754.0,422.0 L758.0,420.8 L759.5,424.0 L756.0,427.0 L753.5,425.5 Z" fill="#cc6b20" stroke="#3b3428" stroke-width="0.75" stroke-linejoin="round" />
<path d="M772.3,436.4 L778.6,436.4 L784.9,438.0 L789.7,441.2 L796.0,439.6 L800.7,444.4 L803.9,449.1 L807.1,458.6 L805.5,463.3 L800.7,464.9 L794.4,468.1 L788.1,464.9 L780.2,463.3 L772.3,461.8 L762.8,461.8 L753.3,463.3 L745.4,464.9 L744.6,458.6 L747.0,452.3 L750.1,447.5 L753.3,444.4 L756.4,442.8 L761.2,445.9 L762.8,449.1 L764.4,452.3 L767.5,450.7 L770.7,444.4 Z" fill="#b63b17" stroke="#3b3428" stroke-width="0.75" stroke-linejoin="round" />
<path d="M745.4,464.9 L753.3,463.3 L762.8,461.8 L772.3,461.8 L780.2,463.3 L788.1,464.9 L794.4,468.1 L800.7,464.9 L799.2,471.2 L797.6,474.4 L794.4,477.6 L791.2,483.9 L791.2,491.8 L786.5,493.4 L778.6,495.0 L770.7,496.6 L764.4,493.4 L761.2,487.1 L756.4,483.9 L750.1,482.3 L747.0,477.6 L745.4,471.2 Z" fill="#b63b17" stroke="#3b3428" stroke-width="0.75" stroke-linejoin="round" />
<path d="M688.6,501.8 L694.9,495.5 L702.8,492.3 L710.7,489.9 L720.2,488.4 L726.6,489.2 L731.3,490.7 L736.0,490.7 L737.5,495.0 L745.0,495.0 L753.3,495.0 L764.4,493.4 L770.7,496.6 L771.0,504.6 L772.3,514.6 L769.8,524.5 L773.5,534.5 L776.0,546.9 L772.3,556.8 L767.3,566.8 L764.8,571.8 L760.0,570.7 L755.3,569.3 L748.5,570.7 L743.1,569.3 L737.6,569.3 L729.5,566.6 L722.7,565.3 L721.4,562.5 L717.3,561.2 L713.2,558.5 L709.2,557.1 L706.4,553.0 L702.4,550.3 L697.0,549.0 L692.2,547.6 L691.5,544.9 L691.8,543.8 L691.0,537.5 L691.8,531.1 L690.2,521.6 L687.0,515.3 L688.6,509.0 Z" fill="#cc6b20" stroke="#3b3428" stroke-width="0.75" stroke-linejoin="round" />
<path d="M662.4,553.0 L668.5,550.3 L675.3,549.0 L680.7,547.6 L686.1,546.3 L691.5,544.9 L692.2,547.6 L697.0,549.0 L702.4,550.3 L706.4,553.0 L709.2,557.1 L713.2,558.5 L717.3,561.2 L721.4,562.5 L722.7,565.3 L720.0,569.3 L717.3,573.4 L713.2,576.1 L709.2,578.8 L703.7,577.5 L697.0,576.1 L691.5,574.7 L687.5,577.5 L683.4,578.8 L679.3,577.5 L676.6,576.1 L672.5,572.0 L668.5,568.0 L665.8,562.5 L663.7,557.1 Z" fill="#e0a543" stroke="#3b3428" stroke-width="0.75" stroke-linejoin="round" />
<path d="M722.7,565.3 L729.5,566.6 L737.6,569.3 L743.1,569.3 L748.5,570.7 L755.3,569.3 L760.0,570.7 L764.8,571.8 L762.3,579.2 L756.6,581.5 L752.5,580.2 L745.8,580.2 L740.3,582.9 L734.9,585.6 L729.5,588.3 L724.1,592.4 L715.9,592.4 L710.5,591.0 L709.2,584.2 L709.2,578.8 L713.2,576.1 L717.3,573.4 L720.0,569.3 Z" fill="#e0a543" stroke="#3b3428" stroke-width="0.75" stroke-linejoin="round" />
<path d="M710.5,591.0 L715.9,592.4 L724.1,592.4 L729.5,588.3 L734.9,585.6 L740.3,582.9 L745.8,580.2 L752.5,580.2 L756.6,581.5 L762.3,579.2 L767.3,586.7 L762.3,594.1 L756.6,603.2 L752.5,608.6 L748.5,614.1 L743.1,616.8 L737.6,618.1 L732.2,619.5 L726.8,623.6 L722.7,623.6 L717.3,620.8 L710.5,618.1 L705.1,614.1 L702.4,608.6 L703.7,603.2 L706.4,597.8 L709.2,593.7 Z" fill="#e0a543" stroke="#3b3428" stroke-width="0.75" stroke-linejoin="round" />
<path d="M676.6,576.1 L679.3,577.5 L683.4,578.8 L687.5,577.5 L691.5,574.7 L697.0,576.1 L703.7,577.5 L709.2,578.8 L709.2,584.2 L710.5,591.0 L709.2,593.7 L706.4,597.8 L703.7,603.2 L702.4,608.6 L697.0,610.0 L690.2,612.0 L683.4,612.7 L676.6,611.4 L669.8,610.0 L663.1,607.3 L660.3,603.2 L654.1,602.4 L648.7,603.3 L642.4,603.3 L639.7,601.5 L636.1,599.7 L634.2,597.0 L635.2,593.3 L642.7,593.0 L646.8,593.7 L653.6,593.7 L659.0,593.0 L664.4,592.4 L668.5,593.7 L667.1,587.0 L671.2,582.9 L673.9,580.2 Z" fill="#e0a543" stroke="#3b3428" stroke-width="0.75" stroke-linejoin="round" />
<path d="M669.8,610.0 L676.6,611.4 L683.4,612.7 L690.2,612.0 L697.0,610.0 L702.4,608.6 L704.0,612.0 L698.3,614.1 L694.2,616.8 L692.9,620.8 L688.8,624.9 L683.4,626.3 L678.0,626.3 L673.9,624.9 L671.2,622.2 L672.5,618.1 L671.2,614.1 Z" fill="#e0a543" stroke="#3b3428" stroke-width="0.75" stroke-linejoin="round" />
<path d="M673.9,624.9 L678.0,626.3 L683.4,626.3 L688.8,624.9 L692.9,620.8 L694.2,616.8 L698.3,614.1 L704.0,612.0 L705.1,614.1 L710.5,618.1 L717.3,620.8 L722.7,623.6 L726.8,623.6 L729.5,627.6 L728.1,631.7 L724.1,633.0 L717.3,633.0 L710.5,631.7 L705.1,630.3 L699.7,629.0 L695.6,630.3 L697.0,637.1 L699.7,642.5 L703.7,648.0 L707.0,650.1 L711.7,656.4 L716.4,662.8 L719.6,667.5 L719.6,672.3 L716.4,670.7 L714.5,669.3 L712.4,668.2 L710.1,667.5 L708.0,666.5 L705.8,665.7 L703.8,664.4 L701.3,663.4 L699.7,661.0 L697.5,659.6 L695.3,658.1 L693.4,656.2 L691.1,654.9 L689.4,652.9 L688.3,650.4 L686.4,648.5 L685.0,646.5 L684.6,644.1 L683.2,642.2 L682.2,639.5 L680.7,637.1 L679.9,634.4 L679.3,631.7 L675.3,633.0 L673.9,631.0 L672.5,629.0 Z" fill="#e0a543" stroke="#3b3428" stroke-width="0.75" stroke-linejoin="round" />
<path d="M605.9,640.6 L602.7,635.9 L601.1,628.0 L598.5,621.6 L601.7,615.9 L602.6,611.4 L601.7,605.1 L603.5,606.9 L605.3,609.6 L608.9,608.7 L612.5,606.9 L616.2,606.0 L618.0,608.7 L620.7,610.5 L623.4,612.3 L626.1,611.4 L628.8,606.9 L630.6,605.1 L633.3,606.9 L636.1,606.0 L638.8,607.8 L641.5,606.9 L642.4,603.3 L648.7,603.3 L654.1,602.4 L660.3,603.2 L663.1,607.3 L669.8,610.0 L671.2,614.1 L672.5,618.1 L671.2,622.2 L667.1,623.6 L660.3,624.9 L657.6,627.6 L656.5,634.3 L657.3,640.6 L661.2,647.0 L666.0,651.7 L670.7,656.4 L673.9,664.4 L677.1,670.7 L683.4,677.0 L691.3,680.2 L694.5,681.4 L695.9,682.8 L694.5,685.6 L697.3,688.4 L701.5,691.2 L705.7,694.0 L709.9,696.8 L714.1,699.6 L718.3,703.8 L721.1,708.0 L720.4,712.2 L718.3,712.2 L715.5,709.4 L712.7,705.2 L709.9,702.4 L705.7,703.8 L701.5,706.6 L698.7,710.8 L698.7,713.6 L701.5,716.4 L705.0,719.2 L704.3,724.8 L701.5,727.6 L698.7,730.3 L695.9,734.5 L693.1,738.7 L689.0,740.8 L686.2,738.7 L687.6,735.9 L689.0,731.7 L691.7,729.0 L693.1,724.8 L691.7,719.2 L690.3,713.6 L686.2,709.4 L682.0,706.6 L677.8,701.5 L673.6,698.0 L669.0,692.8 L663.8,688.4 L658.2,684.2 L654.5,681.0 L648.6,675.4 L642.3,669.1 L637.5,662.8 L634.4,656.4 L634.4,648.5 L629.6,642.2 L623.3,637.5 L618.5,635.9 L612.2,639.0 Z" fill="#e0a543" stroke="#3b3428" stroke-width="0.75" stroke-linejoin="round" />
<path d="M648.4,737.3 L652.6,735.2 L658.2,735.2 L663.8,737.3 L670.8,737.3 L677.8,735.9 L684.8,735.2 L685.5,738.7 L682.0,742.9 L680.6,748.5 L681.3,754.1 L679.2,757.6 L675.0,756.9 L670.8,754.1 L665.2,749.9 L659.6,747.1 L654.0,744.3 L649.8,741.5 Z" fill="#e0a543" stroke="#3b3428" stroke-width="0.75" stroke-linejoin="round" />
<path d="M604.3,688.1 L610.6,686.5 L618.5,684.9 L620.9,691.2 L620.9,700.7 L619.3,710.2 L617.0,715.0 L612.2,718.1 L605.9,718.9 L601.1,715.0 L602.7,707.1 L604.3,700.7 L603.5,692.8 Z" fill="#e0a543" stroke="#3b3428" stroke-width="0.75" stroke-linejoin="round" />
<path d="M612.2,665.9 L617.0,664.4 L621.7,659.6 L623.3,658.8 L623.3,665.9 L622.5,673.8 L620.1,680.2 L617.0,683.3 L613.8,680.2 L612.2,673.8 Z" fill="#e0a543" stroke="#3b3428" stroke-width="0.75" stroke-linejoin="round" />
<path d="M743.1,616.8 L748.5,614.1 L752.5,608.6 L756.6,603.2 L760.0,597.8 L762.3,594.1 L767.3,586.7 L774.7,589.2 L784.7,589.2 L794.6,586.7 L804.6,581.7 L809.5,584.2 L814.5,589.2 L819.5,599.1 L824.5,609.0 L827.0,619.0 L829.4,624.0 L834.4,622.7 L839.4,622.3 L840.6,628.9 L836.9,631.4 L834.4,636.4 L833.2,643.8 L828.1,645.0 L823.2,643.7 L817.0,642.5 L809.5,642.5 L802.0,643.7 L795.8,646.2 L789.6,648.7 L782.2,651.2 L775.9,651.2 L769.7,650.0 L765.4,650.0 L759.8,641.4 L757.3,633.9 L752.5,630.3 L748.5,627.6 L745.8,623.6 Z" fill="#7b1610" stroke="#3b3428" stroke-width="0.75" stroke-linejoin="round" />
<path d="M765.4,650.0 L769.7,650.0 L775.9,651.2 L782.2,651.2 L789.6,648.7 L795.8,646.2 L802.0,643.7 L809.5,642.5 L817.0,642.5 L823.2,643.7 L828.1,645.0 L826.9,652.4 L825.7,658.6 L824.4,664.9 L823.2,667.3 L824.4,672.3 L821.9,673.6 L818.2,674.8 L814.5,676.0 L810.7,679.8 L809.5,682.5 L805.8,683.7 L800.8,685.6 L794.6,686.2 L788.4,686.8 L782.2,687.5 L776.0,687.5 L774.7,683.5 L772.2,678.5 L769.7,674.8 L768.5,671.1 L767.2,667.3 L769.7,664.9 L771.0,661.1 L768.5,657.4 L766.0,653.7 Z" fill="#b63b17" stroke="#3b3428" stroke-width="0.75" stroke-linejoin="round" />
<path d="M740.0,717.3 L742.5,712.3 L746.2,708.6 L748.7,704.8 L751.1,699.9 L754.9,697.4 L759.8,694.9 L764.8,693.7 L769.8,692.4 L773.5,689.9 L776.0,687.5 L782.2,687.5 L788.4,686.8 L794.6,686.2 L800.8,685.6 L805.8,683.7 L809.5,682.5 L810.0,686.0 L810.6,689.0 L810.0,692.6 L808.8,695.0 L806.4,696.8 L805.2,698.8 L802.6,698.0 L800.0,697.5 L797.5,697.0 L795.0,697.0 L792.5,697.0 L789.7,698.6 L787.2,699.9 L783.4,701.1 L781.0,702.4 L779.7,704.8 L782.2,706.1 L785.9,707.3 L787.2,709.8 L784.7,709.8 L782.2,708.6 L782.2,711.7 L779.7,711.1 L778.5,708.6 L777.2,712.3 L774.8,711.1 L773.5,708.6 L771.0,706.1 L768.5,704.8 L767.9,708.6 L769.8,712.3 L772.3,716.0 L773.5,719.8 L772.3,723.5 L774.8,726.5 L776.4,728.7 L778.5,730.5 L780.6,732.9 L783.4,734.5 L785.1,736.6 L787.2,738.2 L789.0,741.5 L790.9,742.1 L792.1,744.6 L789.7,744.6 L785.9,743.4 L782.2,742.1 L778.5,742.1 L776.0,743.4 L774.8,747.1 L777.2,750.8 L776.0,753.3 L773.5,750.8 L772.3,754.5 L772.4,757.1 L773.5,759.5 L774.7,762.5 L774.8,765.7 L772.3,765.7 L769.8,762.0 L767.3,764.5 L766.1,767.0 L763.6,764.5 L761.1,760.7 L758.6,757.0 L757.3,754.5 L756.1,752.0 L753.6,748.3 L751.1,744.6 L749.9,740.9 L752.4,738.4 L756.1,737.1 L752.0,735.5 L749.9,733.4 L747.4,730.9 L744.9,727.2 L743.7,723.5 L741.2,719.8 Z" fill="#f0d475" stroke="#3b3428" stroke-width="0.75" stroke-linejoin="round" />
<path d="M781.0,779.4 L784.7,778.1 L788.4,780.6 L793.4,779.4 L799.6,781.2 L804.6,781.9 L809.5,781.2 L813.3,781.9 L812.6,784.3 L808.3,785.0 L803.3,785.6 L799.6,786.8 L794.6,786.2 L789.7,785.6 L784.7,785.0 L781.0,783.7 Z" fill="#f0d475" stroke="#3b3428" stroke-width="0.75" stroke-linejoin="round" />
<path d="M887.7,773.9 L894.5,771.6 L901.3,768.2 L908.1,764.8 L912.6,761.5 L910.3,766.0 L909.2,771.6 L903.5,775.0 L899.0,778.4 L894.5,780.6 L890.0,778.4 Z" fill="#e0a543" stroke="#3b3428" stroke-width="0.75" stroke-linejoin="round" />
<path d="M669.0,768.0 L671.0,768.5 L671.5,770.5 L669.5,770.8 Z" fill="#e0a543" stroke="#3b3428" stroke-width="0.75" stroke-linejoin="round" />
<path d="M533.5,693.0 L538.0,690.8 L543.0,690.6 L546.5,693.0 L544.0,697.0 L540.0,699.8 L536.0,697.5 Z" fill="#cc6b20" stroke="#3b3428" stroke-width="0.75" stroke-linejoin="round" />
<path d="M550.6,690.5 L554.0,689.7 L555.7,692.5 L553.0,694.5 L551.0,693.0 Z" fill="#cc6b20" stroke="#3b3428" stroke-width="0.75" stroke-linejoin="round" />
<path d="M519.5,699.0 L523.0,697.8 L524.2,700.5 L521.0,703.5 L519.3,702.0 Z" fill="#cc6b20" stroke="#3b3428" stroke-width="0.75" stroke-linejoin="round" />
<path d="M788.6,700.0 L790.5,698.6 L792.1,700.5 L791.0,703.4 L789.0,702.6 Z" fill="#f0d475" stroke="#3b3428" stroke-width="0.5" stroke-linejoin="round" />
<path d="M799.8,703.5 L801.5,703.0 L802.1,704.6 L800.3,704.9 Z" fill="#f0d475" stroke="#3b3428" stroke-width="0.5" stroke-linejoin="round" />
<path d="M793.4,712.0 L796.0,711.0 L798.4,712.5 L797.0,714.8 L794.5,714.5 Z" fill="#f0d475" stroke="#3b3428" stroke-width="0.5" stroke-linejoin="round" />
<path d="M803.3,722.0 L806.5,719.8 L811.0,720.3 L813.3,722.5 L810.0,725.3 L806.0,724.8 Z" fill="#f0d475" stroke="#3b3428" stroke-width="0.5" stroke-linejoin="round" />
<path d="M805.0,732.0 L807.5,731.0 L809.5,733.5 L808.5,737.5 L805.5,738.4 L804.6,735.0 Z" fill="#f0d475" stroke="#3b3428" stroke-width="0.5" stroke-linejoin="round" />
<path d="M807.0,746.0 L810.0,744.6 L814.5,745.5 L813.0,748.0 L809.0,748.3 Z" fill="#f0d475" stroke="#3b3428" stroke-width="0.5" stroke-linejoin="round" />
<path d="M829.4,768.0 L831.5,764.0 L834.5,762.0 L835.0,764.5 L832.5,769.4 Z" fill="#f0d475" stroke="#3b3428" stroke-width="0.5" stroke-linejoin="round" />
<path d="M736.2,716.0 L738.2,714.8 L740.0,717.5 L738.2,719.8 Z" fill="#f0d475" stroke="#3b3428" stroke-width="0.5" stroke-linejoin="round" />
<path d="M745.0,727.0 L746.8,726.0 L747.4,728.5 L745.8,729.7 Z" fill="#f0d475" stroke="#3b3428" stroke-width="0.5" stroke-linejoin="round" />
<path d="M742.5,736.0 L745.0,733.4 L748.3,735.0 L747.5,739.0 L744.5,740.9 Z" fill="#f0d475" stroke="#3b3428" stroke-width="0.5" stroke-linejoin="round" />
<path d="M745.5,743.5 L748.0,742.1 L749.9,744.5 L747.5,747.1 Z" fill="#f0d475" stroke="#3b3428" stroke-width="0.5" stroke-linejoin="round" />
<path d="M772.3,769.5 L774.0,768.2 L774.8,770.5 L773.2,771.3 Z" fill="#f0d475" stroke="#3b3428" stroke-width="0.5" stroke-linejoin="round" />
<circle cx="790.3" cy="747.7" r="1.1" fill="#f0d475" stroke="#3b3428" stroke-width="0.4"/>
<circle cx="793.4" cy="754.5" r="1.1" fill="#f0d475" stroke="#3b3428" stroke-width="0.4"/>
<circle cx="797.1" cy="755.8" r="1.1" fill="#f0d475" stroke="#3b3428" stroke-width="0.4"/>
<circle cx="800.8" cy="754.5" r="1.1" fill="#f0d475" stroke="#3b3428" stroke-width="0.4"/>
<circle cx="802.1" cy="757" r="1.1" fill="#f0d475" stroke="#3b3428" stroke-width="0.4"/>
<circle cx="793.4" cy="760.7" r="1.1" fill="#f0d475" stroke="#3b3428" stroke-width="0.4"/>
<circle cx="797.1" cy="762" r="1.1" fill="#f0d475" stroke="#3b3428" stroke-width="0.4"/>
<circle cx="789.7" cy="762" r="1.1" fill="#f0d475" stroke="#3b3428" stroke-width="0.4"/>
<circle cx="799.6" cy="760.7" r="1.1" fill="#f0d475" stroke="#3b3428" stroke-width="0.4"/>
<circle cx="802.1" cy="765.7" r="1.1" fill="#f0d475" stroke="#3b3428" stroke-width="0.4"/>
<circle cx="808.3" cy="758.3" r="1.1" fill="#f0d475" stroke="#3b3428" stroke-width="0.4"/>
<circle cx="812.6" cy="761.4" r="1.1" fill="#f0d475" stroke="#3b3428" stroke-width="0.4"/>
<circle cx="804.6" cy="749.6" r="1.1" fill="#f0d475" stroke="#3b3428" stroke-width="0.4"/>
<circle cx="795.5" cy="750.5" r="1.1" fill="#f0d475" stroke="#3b3428" stroke-width="0.4"/>
<circle cx="791.5" cy="757.5" r="1.1" fill="#f0d475" stroke="#3b3428" stroke-width="0.4"/>
<path d="M751.5,736.0 L758.0,735.6 L766.0,733.8 L771.0,732.5 L772.0,733.6 L766.0,735.6 L758.0,737.3 L752.5,737.6 Z" fill="#ffffff" stroke="#3b3428" stroke-width="0.4" stroke-linejoin="round" />
<path d="M772.3,723.5 L775.5,727.5 L779.5,731.2 L784.0,735.0 L787.5,738.6" fill="none" stroke="#ffffff" stroke-width="0.9" stroke-linejoin="round"/>
<path d="M605.5,506.0 L608.5,504.5 L611.5,506.5 L611.0,511.0 L608.5,514.5 L605.5,512.5 Z" fill="#ffffff" stroke="#3b3428" stroke-width="0.5" stroke-linejoin="round" />
<path d="M646.0,450.0 L649.0,449.5 L649.5,451.5 L646.5,452.0 Z" fill="#ffffff" stroke="#3b3428" stroke-width="0.4" stroke-linejoin="round" />
<path d="M794.5,416.5 L797.0,418.0 L797.5,424.0 L796.0,429.0 L792.5,429.5 L790.5,425.4 L791.2,420.6 Z" fill="#ffffff" stroke="#3b3428" stroke-width="0.5" stroke-linejoin="round" />
<path d="M496.5,442.5 L497.5,447.0 L500.9,449.6 L502.5,454.4 L507.2,455.9 L509.6,460.7 L510.8,463.5" fill="none" stroke="#3b3428" stroke-width="0.6" stroke-linejoin="round"/>
<path d="M694.0,658.5 L697.5,660.5 L697.0,661.8 L693.5,660.0 Z" fill="#e0a543" stroke="#3b3428" stroke-width="0.5" stroke-linejoin="round" />
<path d="M700.5,663.5 L704.5,665.5 L704.0,666.8 L700.0,665.0 Z" fill="#e0a543" stroke="#3b3428" stroke-width="0.5" stroke-linejoin="round" />
<path d="M707.5,667.5 L712.0,669.5 L711.5,670.6 L707.0,669.0 Z" fill="#e0a543" stroke="#3b3428" stroke-width="0.5" stroke-linejoin="round" />
<path d="M688.0,652.0 L691.0,654.5 L690.3,655.5 L687.5,653.5 Z" fill="#e0a543" stroke="#3b3428" stroke-width="0.5" stroke-linejoin="round" />
<path d="M678.0,634.0 L680.0,636.0 L679.5,640.0 L677.8,638.0 Z" fill="#e0a543" stroke="#3b3428" stroke-width="0.5" stroke-linejoin="round" />
<path d="M628.5,662.0 L631.0,661.5 L631.0,663.5 L628.8,664.0 Z" fill="#e0a543" stroke="#3b3428" stroke-width="0.4" stroke-linejoin="round" />
<path d="M525.2,406.4 L526.4,400.8 L530.3,399.2 L534.3,399.2 L533.5,403.2 L529.5,405.6 L526.4,407.2 Z" fill="#e0a543" stroke="#3b3428" stroke-width="0.5" stroke-linejoin="round" />
<path d="M520.8,407.9 L522.4,408.7 L520.8,413.5 L518.4,417.4 L516.9,417.4 L518.4,412.7 Z" fill="#e0a543" stroke="#3b3428" stroke-width="0.5" stroke-linejoin="round" />
<path d="M526.4,411.1 L529.5,410.3 L531.6,413.5 L531.1,418.2 L528.7,419.0 L527.2,416.6 Z" fill="#e0a543" stroke="#3b3428" stroke-width="0.5" stroke-linejoin="round" />
<path d="M518.8,436.5 L522.5,435.6 L525.6,437.0 L524.0,440.0 L520.0,440.4 Z" fill="#e0a543" stroke="#3b3428" stroke-width="0.5" stroke-linejoin="round" />
<path d="M522.8,441.0 L525.0,439.8 L526.5,443.0 L525.5,447.0 L523.0,446.5 Z" fill="#e0a543" stroke="#3b3428" stroke-width="0.5" stroke-linejoin="round" />
<path d="M558.0,398.4 L560.4,396.9 L563.5,396.9 L566.7,395.7 L565.1,398.4 L562.0,400.8 L559.6,402.4 L557.6,400.8 Z" fill="#e0a543" stroke="#3b3428" stroke-width="0.5" stroke-linejoin="round" />
<path d="M577.0,382.5 L579.0,380.0 L580.3,383.0 L578.5,386.5 L577.3,385.5 Z" fill="#e0a543" stroke="#3b3428" stroke-width="0.5" stroke-linejoin="round" />
<path d="M524.6,464.0 L528.0,463.0 L529.4,466.0 L526.0,467.0 Z" fill="#e0a543" stroke="#3b3428" stroke-width="0.5" stroke-linejoin="round" />
<path d="M529.0,426.5 L530.5,425.5 L531.0,427.5 L529.5,428.2 Z" fill="#e0a543" stroke="#3b3428" stroke-width="0.5" stroke-linejoin="round" />
<path d="M545.5,346.0 L547.5,345.5 L547.8,348.0 L545.8,348.3 Z" fill="#e0a543" stroke="#3b3428" stroke-width="0.4" stroke-linejoin="round" />
<circle cx="694" cy="482" r="2.2" fill="#e0a543" stroke="#3b3428" stroke-width="0.5"/>
</g>
<g opacity="0.999">
<rect x="53" y="56" width="353" height="69" fill="#006b86"/>
<text x="65" y="107" font-size="56" font-weight="bold" fill="#ffffff" textLength="328" lengthAdjust="spacingAndGlyphs">Tuberculosis</text>
<g font-weight="bold" fill="#68b3ba">
<text x="65.5" y="168.5" font-size="32" textLength="142.5" lengthAdjust="spacingAndGlyphs">Cases per</text>
<text x="214.5" y="168.5" font-size="24" textLength="115" lengthAdjust="spacingAndGlyphs">100 000</text>
<text x="342.5" y="168.5" font-size="32" textLength="275" lengthAdjust="spacingAndGlyphs">population EU/EEA</text>
<text x="624.5" y="168.5" font-size="24" textLength="67" lengthAdjust="spacingAndGlyphs">2017</text>
</g>
<g fill="#a0a0a0" font-size="17.5">
<rect x="84" y="279" width="29.5" height="11" fill="#f0d475"/><text x="125.8" y="291" textLength="25" lengthAdjust="spacingAndGlyphs">&lt; 5</text>
<rect x="84" y="312" width="29.5" height="11" fill="#e0a543"/><text x="124.8" y="324.5" textLength="53" lengthAdjust="spacingAndGlyphs">5 to 9</text>
<rect x="84" y="345" width="29.5" height="11" fill="#cc6b20"/><text x="124.8" y="357.4" textLength="71.2" lengthAdjust="spacingAndGlyphs">10 to 19</text>
<rect x="84" y="376.3" width="29.5" height="11" fill="#b63b17"/><text x="124.8" y="390.3" textLength="77.2" lengthAdjust="spacingAndGlyphs">20 to 49</text>
<rect x="84" y="410.5" width="29.5" height="11" fill="#7b1610"/><text x="125.8" y="422.5" textLength="38.9" lengthAdjust="spacingAndGlyphs">≥ 50</text>
</g>
<g fill="#5f5f5f" font-weight="bold" font-size="21">
<text x="266" y="370" textLength="107" lengthAdjust="spacingAndGlyphs">TB cases in</text>
<text x="237" y="396" textLength="165" lengthAdjust="spacingAndGlyphs">EU/EEA countries</text>
<text x="244" y="547.5" textLength="156" lengthAdjust="spacingAndGlyphs">Notification rate</text>
<text x="211" y="573.4" textLength="32.5" lengthAdjust="spacingAndGlyphs">per</text>
<text x="247.4" y="573.4" font-size="16" textLength="34" lengthAdjust="spacingAndGlyphs">100</text>
<text x="286.2" y="573.4" font-size="16" textLength="36" lengthAdjust="spacingAndGlyphs">000</text>
<text x="328" y="573.4" textLength="104.5" lengthAdjust="spacingAndGlyphs">population</text>
</g>
<circle cx="321.5" cy="455.3" r="51" fill="#006b86"/>
<text x="321" y="464" font-size="24" font-weight="bold" fill="#fff" text-anchor="middle">55 337</text>
<circle cx="321" cy="620" r="35" fill="#69b8be"/>
<text x="321" y="628.5" font-size="23" font-weight="bold" fill="#fff" text-anchor="middle">10.7</text>
<g fill="#a0a0a0" font-size="19">
<text x="83.2" y="692.4" textLength="193.8" lengthAdjust="spacingAndGlyphs">Non-visible countries</text>
<rect x="84" y="712.3" width="29.5" height="10.5" fill="#f0d475"/><text x="125" y="725.2" textLength="125" lengthAdjust="spacingAndGlyphs">Liechtenstein</text>
<rect x="84" y="745" width="29.5" height="10.5" fill="#e0a543"/><text x="125.1" y="757.8" textLength="53.4" lengthAdjust="spacingAndGlyphs">Malta</text>
</g>
<g font-size="13.5" fill="#a0a0a0">
<text x="59.8" y="830.4" textLength="124.5" lengthAdjust="spacingAndGlyphs">Source: ECDC/WHO (</text>
<text x="184.8" y="830.4" font-size="11.5" textLength="26" lengthAdjust="spacingAndGlyphs">2019</text>
<text x="210.8" y="830.4" textLength="329.5" lengthAdjust="spacingAndGlyphs">). Tuberculosis surveillance and monitoring in Europe</text>
<text x="542.7" y="830.4" font-size="11.5" textLength="68" lengthAdjust="spacingAndGlyphs">2019–2017</text>
<text x="614" y="830.4" textLength="31" lengthAdjust="spacingAndGlyphs">data.</text>
</g>
<text x="60" y="851.4" font-size="13.5" fill="#2d6f9f" textLength="198" lengthAdjust="spacingAndGlyphs">ecdc.europa.eu/en/tuberculosis</text>

<g id="logo">
<path d="M871.8,83.1 L875,79.2 L879,76.5 L883,75.9 L886.9,75.2 L892.2,71.3 L896.1,70.6 L900.1,72.6 L904.1,76.5 L907.3,82.5 L909.3,89.1 L909.3,95.7 L908,99 L908.7,102.3 L906.7,104.2 L902.7,105.6 L896.1,106.9 L889.6,108.2 L884.3,108.8 L881,106.9 L877.7,104.9 L875,105.6 L871.8,106.9 L867.1,106.9 L863.2,108.2 L859.2,109.5 L855.3,108.2 L854.6,104.2 L857.9,102.9 L863.2,102.3 L864.5,97 L863.8,93.7 L869.8,92.4 L873.7,90.4 L871.8,85.8 Z M861,73.5 L864,73 L864.5,76.5 L862,77.5 Z" fill="#b2d28c"/>
<path d="M881.6,79 L884,77.9 L885.6,80 L883.5,83.1 L881.8,82 Z" fill="#ffffff"/>
<g fill="none" stroke="#17508f" stroke-width="1.35" stroke-linecap="round">
<path d="M855.9,83.8 Q866,76 876.4,75.2 Q891,72.5 902.7,76.5"/>
<path d="M851.3,97.6 Q866,91 880,89.8 Q900,88 914.6,91.7"/>
<path d="M852,108.8 Q866,111.5 880,108.8 Q900,105.5 914.6,101.6"/>
<path d="M853.3,88.4 Q850.5,98 852.6,106.9 Q854.5,113 858.6,117.4"/>
<path d="M871.8,69.3 Q862,79 861.2,92.4 Q861.5,106 867.1,117.4"/>
<path d="M877,68.6 Q878.3,80 881,92.4 Q883,104 883.6,111.5"/>
<path d="M883,67.3 Q894,74 896.8,84.5 Q899.5,96 898.8,105.6"/>
<path d="M896.1,71.3 Q908,79 912,89.1 Q913.5,101 909.3,110.8"/>
</g>
<text x="870.5" y="136.5" style="font-family:'Liberation Serif',serif" font-size="44" stroke-width="0.7" textLength="80.5" lengthAdjust="spacingAndGlyphs"><tspan fill="#1a4f9a" stroke="#1a4f9a">e</tspan><tspan fill="#5cb130" stroke="#5cb130">cd</tspan><tspan fill="#1a4f9a" stroke="#1a4f9a">c</tspan></text>
<ellipse cx="931" cy="100.5" rx="3.6" ry="2.2" transform="rotate(-20 931 100.5)" fill="#5cb130"/>
<rect x="871.4" y="144" width="19.6" height="13" fill="#1f4e9c"/>
<g fill="#f3d23a">
<circle cx="881.2" cy="146.6" r="0.45"/><circle cx="883.2" cy="147.1" r="0.45"/><circle cx="884.6" cy="148.6" r="0.45"/><circle cx="885.1" cy="150.5" r="0.45"/><circle cx="884.6" cy="152.4" r="0.45"/><circle cx="883.2" cy="153.9" r="0.45"/><circle cx="881.2" cy="154.4" r="0.45"/><circle cx="879.2" cy="153.9" r="0.45"/><circle cx="877.8" cy="152.4" r="0.45"/><circle cx="877.3" cy="150.5" r="0.45"/><circle cx="877.8" cy="148.6" r="0.45"/><circle cx="879.2" cy="147.1" r="0.45"/>
</g>
<g fill="#1f4e9c" font-size="4.6" font-weight="bold">
<text x="895" y="148.2" textLength="55" lengthAdjust="spacingAndGlyphs">EUROPEAN CENTRE FOR</text>
<text x="895" y="152.6" textLength="50" lengthAdjust="spacingAndGlyphs">DISEASE PREVENTION</text>
<text x="895" y="157" textLength="38" lengthAdjust="spacingAndGlyphs">AND CONTROL</text>
</g>
</g>

</g>
</svg>
</body></html>
